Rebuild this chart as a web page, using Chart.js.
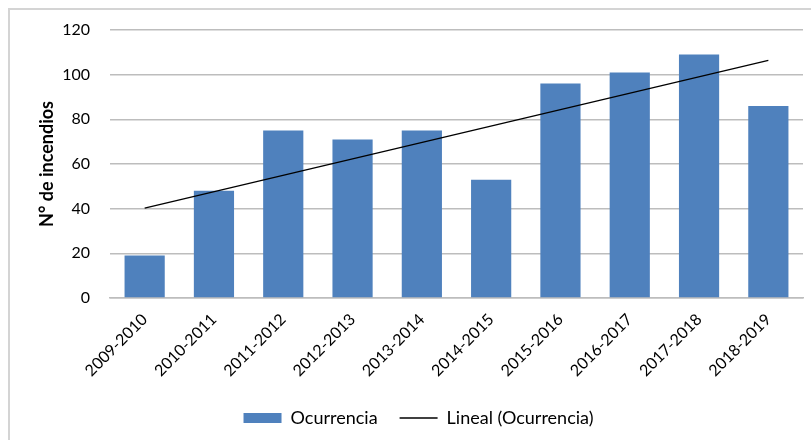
<!DOCTYPE html>
<html>
<head>
<meta charset="utf-8">
<script src="https://cdn.jsdelivr.net/npm/chart.js@4.4.1/dist/chart.umd.min.js"></script>
<style>
  html, body { margin: 0; padding: 0; background: #fff; }
  #wrap { position: relative; width: 811px; height: 440px; overflow: hidden; }
  #frame { position: absolute; left: 8px; top: 8px; width: 820px; height: 450px;
           border-left: 2px solid #d4d4d4; border-top: 2px solid #d4d4d4; }
  #c { position: absolute; left: 0; top: 0; }
</style>
</head>
<body>
<div id="wrap">
  <div id="frame"></div>
  <canvas id="c" width="811" height="440"></canvas>
</div>
<script>
const categories = ['2009-2010','2010-2011','2011-2012','2012-2013','2013-2014','2014-2015','2015-2016','2016-2017','2017-2018','2018-2019'];
const ocurrencia = [19, 48, 75, 71, 75, 53, 96, 101, 109, 86];
// Trend line endpoints (first and last season)
const linealOcurrencia = [40.2, null, null, null, null, null, null, null, null, 106.4];
const yTicks = [0, 20, 40, 60, 80, 100, 120];

const FONT = 'Lato, "Open Sans", sans-serif';
const GRID = '#bdbdbd';

new Chart(document.getElementById('c'), {
  data: {
    labels: categories,
    datasets: [
      {
        type: 'bar',
        label: 'Ocurrencia',
        data: ocurrencia,
        backgroundColor: '#4f81bd',
        borderWidth: 0,
        barPercentage: 0.58,
        categoryPercentage: 1.0,
        pointStyle: 'rect',
        order: 2
      },
      {
        type: 'line',
        label: 'Lineal (Ocurrencia)',
        data: linealOcurrencia,
        borderColor: '#000000',
        backgroundColor: '#000000',
        borderWidth: 1.3,
        pointRadius: 0,
        spanGaps: true,
        fill: false,
        pointStyle: 'line',
        order: 1
      }
    ]
  },
  options: {
    responsive: false,
    animation: false,
    layout: { padding: { top: 30, right: 8, left: 34, bottom: 3 } },
    plugins: {
      title: { display: false },
      tooltip: { enabled: false },
      legend: {
        position: 'bottom',
        labels: {
          usePointStyle: true,
          pointStyleWidth: 38,
          boxHeight: 10,
          padding: 22,
          color: '#000',
          font: { family: FONT, size: 18 },
          sort: (a, b) => a.datasetIndex - b.datasetIndex
        }
      }
    },
    scales: {
      x: {
        afterFit: (s) => { s.height = 89; },
        grid: { display: false, drawTicks: false },
        border: { display: true, color: GRID, width: 1.5 },
        ticks: {
          minRotation: 45, maxRotation: 45,
          color: '#000',
          padding: 12,
          font: { family: FONT, size: 16 }
        }
      },
      y: {
        min: 0, max: 120,
        afterFit: (s) => { s.width = 76; },
        afterBuildTicks: (s) => { s.ticks = yTicks.map(v => ({ value: v })); },
        grid: { color: GRID, lineWidth: 1.5, drawTicks: false },
        border: { display: false },
        ticks: {
          color: '#000',
          padding: 20,
          font: { family: FONT, size: 16 }
        },
        title: {
          display: true,
          text: 'N° de incendios',
          color: '#000',
          padding: { top: 2, bottom: 0 },
          font: { family: FONT, size: 18, weight: 'bold' }
        }
      }
    }
  }
});
</script>
</body>
</html>
